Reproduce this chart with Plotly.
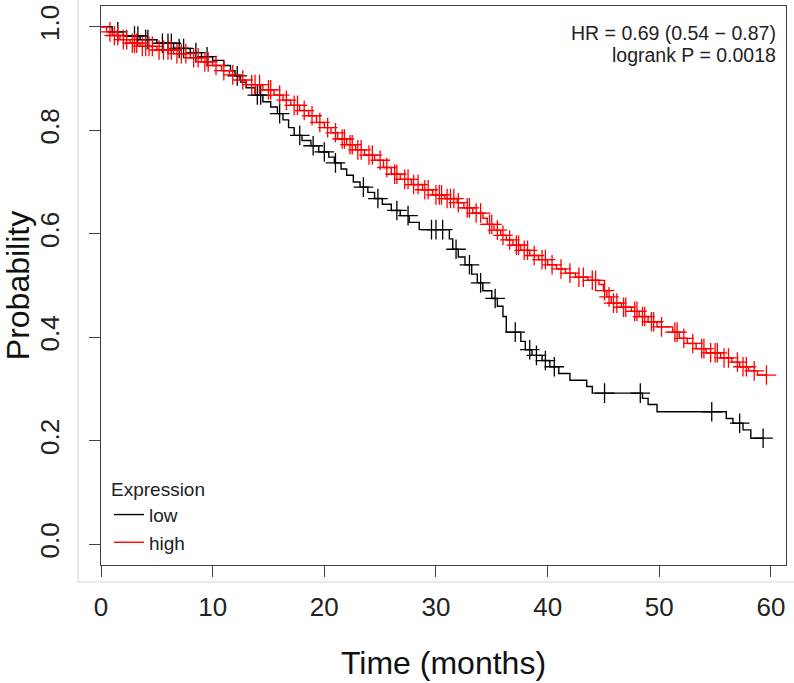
import plotly.graph_objects as go
import numpy as np

# ---- data ----
low_times = [0.0, 1.0, 2.0, 3.5, 5.0, 6.5, 8.0, 9.0, 10.0, 11.0, 11.6, 12.0, 12.5, 13.0, 13.8, 14.5,
             15.2, 15.8, 16.3, 16.8, 17.3, 18.0, 18.8, 19.5, 20.4, 20.9, 21.5, 22.0, 22.6, 23.2, 23.9,
             24.5, 25.2, 26.0, 26.8, 27.6, 28.5, 31.2, 31.5, 32.0, 32.6, 33.2, 33.7, 34.2, 35.0, 35.5,
             36.0, 36.3, 37.6, 38.0, 38.6, 39.5, 40.2, 41.0, 42.0, 43.5, 44.0, 48.5, 49.0, 49.8, 56.0,
             56.6, 57.5, 58.2]
low_surv = [1.0, 0.99, 0.982, 0.975, 0.968, 0.958, 0.95, 0.942, 0.935, 0.925, 0.915, 0.905, 0.893,
            0.882, 0.868, 0.855, 0.845, 0.832, 0.82, 0.805, 0.79, 0.78, 0.77, 0.758, 0.748, 0.737,
            0.725, 0.713, 0.70, 0.69, 0.68, 0.668, 0.657, 0.645, 0.635, 0.622, 0.608, 0.59, 0.57,
            0.555, 0.54, 0.522, 0.505, 0.49, 0.475, 0.46, 0.44, 0.41, 0.392, 0.376, 0.365, 0.355,
            0.343, 0.33, 0.317, 0.305, 0.292, 0.282, 0.27, 0.256, 0.243, 0.234, 0.221, 0.205]
low_end = 59.3
low_censor = [1.5, 3.0, 3.3, 4.0, 4.2, 5.5, 6.0, 6.3, 7.0, 7.4, 8.5, 9.5, 12.2, 14.0, 14.3, 16.0,
              17.8, 19.0, 20.0, 21.0, 23.5, 24.8, 26.5, 27.5, 29.6, 30.0, 30.6, 31.8, 33.0, 34.0,
              35.3, 37.1, 38.4, 39.0, 39.8, 40.6, 45.1, 48.3, 54.7, 57.2, 59.3]

high_times = [0.0, 0.5, 1.0, 1.7, 2.6, 3.5, 5.0, 6.5, 8.0, 9.0, 10.0, 10.8, 11.5, 12.4, 13.0, 14.5,
              15.5, 16.3, 17.0, 17.8, 18.6, 19.3, 20.0, 20.6, 21.2, 22.0, 22.8, 23.6, 24.5, 25.3,
              26.0, 26.8, 27.8, 28.8, 29.7, 30.8, 31.9, 32.5, 33.3, 34.2, 34.6, 35.2, 35.8, 36.3,
              36.9, 37.6, 38.4, 39.2, 40.0, 40.8, 41.6, 42.5, 43.6, 44.6, 45.0, 45.3, 45.7, 46.6,
              47.5, 48.2, 49.0, 49.8, 51.2, 51.8, 52.5, 53.3, 54.2, 55.5, 56.5, 57.2, 58.0, 58.8]
high_surv = [1.0, 0.99, 0.983, 0.975, 0.968, 0.962, 0.955, 0.948, 0.94, 0.932, 0.925, 0.915, 0.907,
             0.897, 0.888, 0.878, 0.868, 0.858, 0.848, 0.838, 0.828, 0.815, 0.805, 0.795, 0.783,
             0.772, 0.762, 0.752, 0.742, 0.728, 0.715, 0.705, 0.695, 0.685, 0.675, 0.668, 0.66,
             0.65, 0.64, 0.63, 0.618, 0.607, 0.597, 0.588, 0.578, 0.568, 0.558, 0.55, 0.54, 0.532,
             0.524, 0.516, 0.51, 0.502, 0.49, 0.478, 0.466, 0.458, 0.45, 0.44, 0.43, 0.42, 0.41,
             0.398, 0.388, 0.378, 0.37, 0.36, 0.352, 0.343, 0.335, 0.327]
high_end = 59.6
high_censor = [0.8, 1.2, 1.5, 2.0, 2.3, 2.8, 3.0, 3.2, 3.7, 4.0, 4.3, 4.6, 5.2, 5.6, 6.0, 6.3, 6.8,
               7.2, 7.6, 8.3, 8.7, 9.3, 9.6, 10.3, 11.0, 11.8, 12.7, 13.5, 13.8, 14.2, 15.0, 15.2,
               16.0, 16.6, 17.3, 17.6, 18.2, 18.9, 19.6, 20.3, 21.0, 21.6, 21.8, 22.3, 22.5, 23.0,
               23.3, 24.0, 24.3, 25.0, 25.6, 26.3, 26.5, 27.2, 27.5, 28.0, 28.4, 29.0, 29.3, 30.0,
               30.3, 30.5, 31.0, 31.3, 31.6, 32.0, 32.8, 33.0, 33.6, 34.0, 34.8, 35.0, 35.5, 36.0,
               36.6, 37.2, 37.4, 37.9, 38.2, 38.8, 39.5, 39.8, 40.4, 41.2, 42.0, 42.8, 43.2, 44.0,
               44.3, 45.1, 45.5, 45.9, 46.2, 46.8, 47.0, 47.8, 48.0, 48.5, 48.7, 49.3, 49.5, 50.2,
               51.4, 51.6, 52.2, 53.0, 53.8, 54.0, 54.6, 55.0, 55.2, 55.8, 56.2, 57.0, 57.5, 57.8,
               58.5, 59.6]

x_ticks = [0, 10, 20, 30, 40, 50, 60]
y_ticks = [0.0, 0.2, 0.4, 0.6, 0.8, 1.0]
y_ticktext = ["0.0", "0.2", "0.4", "0.6", "0.8", "1.0"]
hr_text = "HR = 0.69 (0.54 \u2212 0.87)"
p_text = "logrank P = 0.0018"


def surv_at(times, surv, t):
    idx = np.searchsorted(np.array(times), t, side="right") - 1
    return surv[max(idx, 0)]


fig = go.Figure()
series = [("low", "#000000", low_times, low_surv, low_end, low_censor),
          ("high", "#ff0000", high_times, high_surv, high_end, high_censor)]
for name, color, tt, ss, end, cens in series:
    xs = list(tt) + [end]
    ys = list(ss) + [ss[-1]]
    fig.add_trace(go.Scatter(x=xs, y=ys, mode="lines", line=dict(color=color, width=1.4, shape="hv"),
                             name=name, showlegend=True))
for name, color, tt, ss, end, cens in series:
    cy = [surv_at(tt, ss, c) for c in cens]
    fig.add_trace(go.Scatter(x=cens, y=cy, mode="markers",
                             marker=dict(symbol="cross-thin", size=14, line=dict(color=color, width=1.3)),
                             showlegend=False, hoverinfo="skip"))

L, R, T, B = 101, 8, 6, 118
W, H = 794, 683
pw, ph = W - L - R, H - T - B


def px_x(p):
    return (p - L) / pw


def px_y(p):
    return (H - B - p) / ph


FONT = "Liberation Sans, Arial"
axis_common = dict(showline=True, linecolor="#404040", linewidth=1.3, mirror=True, showgrid=False,
                   zeroline=False, ticks="outside", ticklen=11, tickwidth=1.3, tickcolor="#404040",
                   automargin=False,
                   tickfont=dict(family=FONT, size=26, color="#222"))

fig.update_layout(
    width=W, height=H, margin=dict(l=L, r=R, t=T, b=B, autoexpand=False),
    paper_bgcolor="white", plot_bgcolor="white",
    xaxis=dict(range=[0, 61.35], tickvals=x_ticks, ticktext=[str(v) for v in x_ticks],
               title=dict(text="Time (months)", font=dict(family=FONT, size=32, color="#111"),
                          standoff=30),
               ticklabelstandoff=8, **axis_common),
    yaxis=dict(range=[-0.04, 1.04], tickvals=y_ticks, ticktext=y_ticktext, tickangle=-90,
               title=dict(text="Probability", font=dict(family=FONT, size=32, color="#111"),
                          standoff=0),
               ticklabelstandoff=19, **axis_common),
    legend=dict(x=px_x(109), y=px_y(471), xanchor="left", yanchor="top", bgcolor="rgba(0,0,0,0)",
                title=dict(text="Expression", font=dict(family=FONT, size=19, color="#222")),
                font=dict(family=FONT, size=19, color="#222"), tracegroupgap=0),
    annotations=[
        dict(text=hr_text, x=px_x(778), y=px_y(33), xref="paper", yref="paper", xanchor="right",
             yanchor="middle", showarrow=False, font=dict(family=FONT, size=19.5, color="#222")),
        dict(text=p_text, x=px_x(778), y=px_y(55), xref="paper", yref="paper", xanchor="right",
             yanchor="middle", showarrow=False, font=dict(family=FONT, size=19.5, color="#222")),
    ],
    shapes=[
        dict(type="line", xref="paper", yref="paper", x0=px_x(78), x1=px_x(78), y0=px_y(582), y1=px_y(0),
             line=dict(color="#d8d8d8", width=1.2)),
        dict(type="line", xref="paper", yref="paper", x0=px_x(78), x1=px_x(794), y0=px_y(582), y1=px_y(582),
             line=dict(color="#d8d8d8", width=1.2)),
    ],
    showlegend=True,
)

fig.write_html("out.html", config={"displayModeBar": False},
               post_script="document.body.style.margin='0';document.body.style.overflow='hidden';")
